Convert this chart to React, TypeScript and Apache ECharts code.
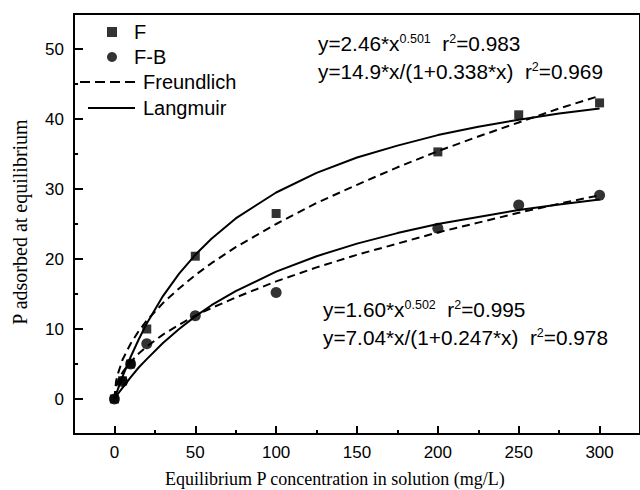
import React, { useEffect, useRef } from 'react';
import * as echarts from 'echarts';

// Axis ticks
const xMajorTicks = [0, 50, 100, 150, 200, 250, 300];
const xMinorTicks = [25, 75, 125, 175, 225, 275];
const yMajorTicks = [0, 10, 20, 30, 40, 50];
const yMinorTicks = [5, 15, 25, 35, 45];

// Measured points
const pointX = [0, 5, 10, 20, 50, 100, 200, 250, 300];
const fValues = [0, 2.6, 5.0, 10.0, 20.4, 26.5, 35.3, 40.6, 42.3];
const fbValues = [0, 2.5, 5.0, 7.9, 11.9, 15.2, 24.4, 27.7, 29.1];

// Fitted curves
const curveX = [0, 1, 2, 5, 10, 15, 20, 30, 40, 50, 60, 75, 100, 125, 150, 175, 200, 225, 250, 275, 300];
const freundlichF = [0, 2.5, 3.5, 5.6, 7.9, 9.7, 11.2, 13.7, 15.8, 17.7, 19.4, 21.7, 25.0, 28.0, 30.6, 33.1, 35.4, 37.5, 39.5, 41.5, 43.3];
const langmuirF = [0, 0.7, 1.3, 3.2, 6.0, 8.5, 10.8, 14.7, 17.9, 20.6, 22.9, 25.8, 29.5, 32.3, 34.5, 36.2, 37.7, 38.9, 39.9, 40.8, 41.5];
const freundlichFB = [0, 1.7, 2.4, 3.8, 5.3, 6.5, 7.5, 9.2, 10.6, 11.9, 13.0, 14.5, 16.8, 18.8, 20.6, 22.2, 23.8, 25.2, 26.6, 27.9, 29.1];
const langmuirFB = [0, 0.3, 0.7, 1.6, 3.1, 4.5, 5.7, 8.0, 10.0, 11.8, 13.4, 15.4, 18.2, 20.4, 22.2, 23.7, 25.0, 26.0, 27.0, 27.8, 28.5];

// Texts
const xTitle = 'Equilibrium P concentration in solution (mg/L)';
const yTitle = 'P adsorbed at equilibrium';
const eqF1 = 'y=2.46*x{s|0.501}  r{s|2}=0.983';
const eqF2 = 'y=14.9*x/(1+0.338*x)  r{s|2}=0.969';
const eqFB1 = 'y=1.60*x{s|0.502}  r{s|2}=0.995';
const eqFB2 = 'y=7.04*x/(1+0.247*x)  r{s|2}=0.978';

const SANS = "'Liberation Sans', Arial, sans-serif";
const SERIF = "'Liberation Serif', 'Times New Roman', serif";

// Legend icons (filled paths: line samples)
const DASH_ICON = 'path://M0,0H10V2H0Z M15,0H25V2H15Z M30,0H40V2H30Z M45,0H55V2H45Z';
const SOLID_ICON = 'path://M0,0H0.05V0.05H0Z M8,0H55V2H8Z';

const pairs = (xs: number[], ys: number[]) => xs.map((x, i) => [x, ys[i]]);

export default function App() {
  const ref = useRef<HTMLDivElement>(null);

  useEffect(() => {
    if (!ref.current) return;
    const chart = echarts.init(ref.current, undefined, { renderer: 'svg' });

    const eqText = (text: string, x: number, y: number) => ({
      type: 'text',
      x,
      y,
      style: {
        text,
        fill: '#000',
        fontSize: 20.8,
        fontFamily: SANS,
        textAlign: 'left',
        textVerticalAlign: 'middle',
        align: 'left',
        verticalAlign: 'middle',
        rich: {
          s: { fontSize: 12.5, fontFamily: SANS, verticalAlign: 'top', fill: '#000' },
        },
      },
    });

    const baseAxisX = {
      type: 'value',
      min: -25,
      max: 325,
      splitLine: { show: false },
    };
    const baseAxisY = {
      type: 'value',
      min: -5,
      max: 55,
      splitLine: { show: false },
    };

    const lineSeries = (name: string, ys: number[], dashed: boolean) => ({
      name,
      type: 'line',
      data: pairs(curveX, ys),
      symbol: 'none',
      smooth: false,
      lineStyle: { color: '#000', width: 2, type: dashed ? [8, 5] : 'solid' },
      itemStyle: { color: '#000' },
      z: 2,
    });

    const option: any = {
      animation: false,
      backgroundColor: '#fff',
      grid: {
        left: 74,
        top: 14,
        width: 574,
        height: 420,
        show: true,
        borderColor: '#000',
        borderWidth: 2,
        backgroundColor: 'transparent',
      },
      xAxis: [
        {
          ...baseAxisX,
          position: 'bottom',
          axisLine: { show: true, onZero: false, lineStyle: { color: '#000', width: 2 } },
          axisTick: {
            show: true,
            inside: true,
            length: 8,
            customValues: xMajorTicks,
            lineStyle: { color: '#000', width: 2 },
          },
          axisLabel: {
            show: true,
            customValues: xMajorTicks,
            margin: 10,
            color: '#000',
            fontSize: 17,
            fontFamily: SANS,
          },
        },
        {
          ...baseAxisX,
          position: 'bottom',
          axisLine: { show: false, onZero: false },
          axisTick: {
            show: true,
            inside: true,
            length: 4,
            customValues: xMinorTicks,
            lineStyle: { color: '#000', width: 2 },
          },
          axisLabel: { show: false },
        },
      ],
      yAxis: [
        {
          ...baseAxisY,
          position: 'left',
          axisLine: { show: true, onZero: false, lineStyle: { color: '#000', width: 2 } },
          axisTick: {
            show: true,
            inside: true,
            length: 9,
            customValues: yMajorTicks,
            lineStyle: { color: '#000', width: 2 },
          },
          axisLabel: {
            show: true,
            customValues: yMajorTicks,
            margin: 10,
            color: '#000',
            fontSize: 17,
            fontFamily: SANS,
          },
        },
        {
          ...baseAxisY,
          position: 'left',
          axisLine: { show: false, onZero: false },
          axisTick: {
            show: true,
            inside: true,
            length: 4,
            customValues: yMinorTicks,
            lineStyle: { color: '#000', width: 2 },
          },
          axisLabel: { show: false },
        },
      ],
      legend: [
        {
          data: [
            { name: 'F', icon: 'rect' },
            { name: 'F-B', icon: 'circle' },
          ],
          orient: 'vertical',
          left: 102,
          top: 17,
          itemWidth: 10,
          itemHeight: 10,
          itemGap: 5,
          selectedMode: false,
          textStyle: { fontSize: 20, fontFamily: SANS, color: '#000', padding: [0, 0, 0, 12] },
        },
        {
          data: [
            { name: 'Freundlich', icon: DASH_ICON },
            { name: 'Langmuir', icon: SOLID_ICON },
          ],
          orient: 'vertical',
          left: 75,
          top: 67,
          itemWidth: 55,
          itemHeight: 2,
          itemGap: 6,
          selectedMode: false,
          itemStyle: { color: '#000', borderWidth: 0 },
          lineStyle: { width: 0 },
          textStyle: { fontSize: 20, fontFamily: SANS, color: '#000', padding: [0, 0, 0, 3] },
        },
      ],
      series: [
        lineSeries('Freundlich', freundlichF, true),
        lineSeries('Freundlich', freundlichFB, true),
        lineSeries('Langmuir', langmuirF, false),
        lineSeries('Langmuir', langmuirFB, false),
        {
          name: 'F',
          type: 'scatter',
          data: pairs(pointX, fValues),
          symbol: 'rect',
          symbolSize: 9,
          itemStyle: { color: '#000' },
          z: 5,
        },
        {
          name: 'F-B',
          type: 'scatter',
          data: pairs(pointX, fbValues),
          symbol: 'circle',
          symbolSize: 11,
          itemStyle: { color: '#000' },
          z: 5,
        },
      ],
      graphic: [
        eqText(eqF1, 318, 43),
        eqText(eqF2, 318, 71),
        eqText(eqFB1, 323, 309),
        eqText(eqFB2, 323, 337),
        {
          type: 'text',
          x: 165,
          y: 479,
          style: {
            text: xTitle,
            fill: '#000',
            fontSize: 18,
            fontFamily: SERIF,
            textAlign: 'left',
            textVerticalAlign: 'middle',
            align: 'left',
            verticalAlign: 'middle',
          },
        },
        {
          type: 'text',
          x: 20,
          y: 222,
          rotation: Math.PI / 2,
          style: {
            text: yTitle,
            fill: '#000',
            fontSize: 20,
            fontFamily: SERIF,
            textAlign: 'center',
            textVerticalAlign: 'middle',
            align: 'center',
            verticalAlign: 'middle',
          },
        },
      ],
    };

    chart.setOption(option);
    return () => chart.dispose();
  }, []);

  return (
    <div
      ref={ref}
      style={{ position: 'fixed', left: 0, top: 0, width: 640, height: 490, background: '#fff' }}
    />
  );
}
